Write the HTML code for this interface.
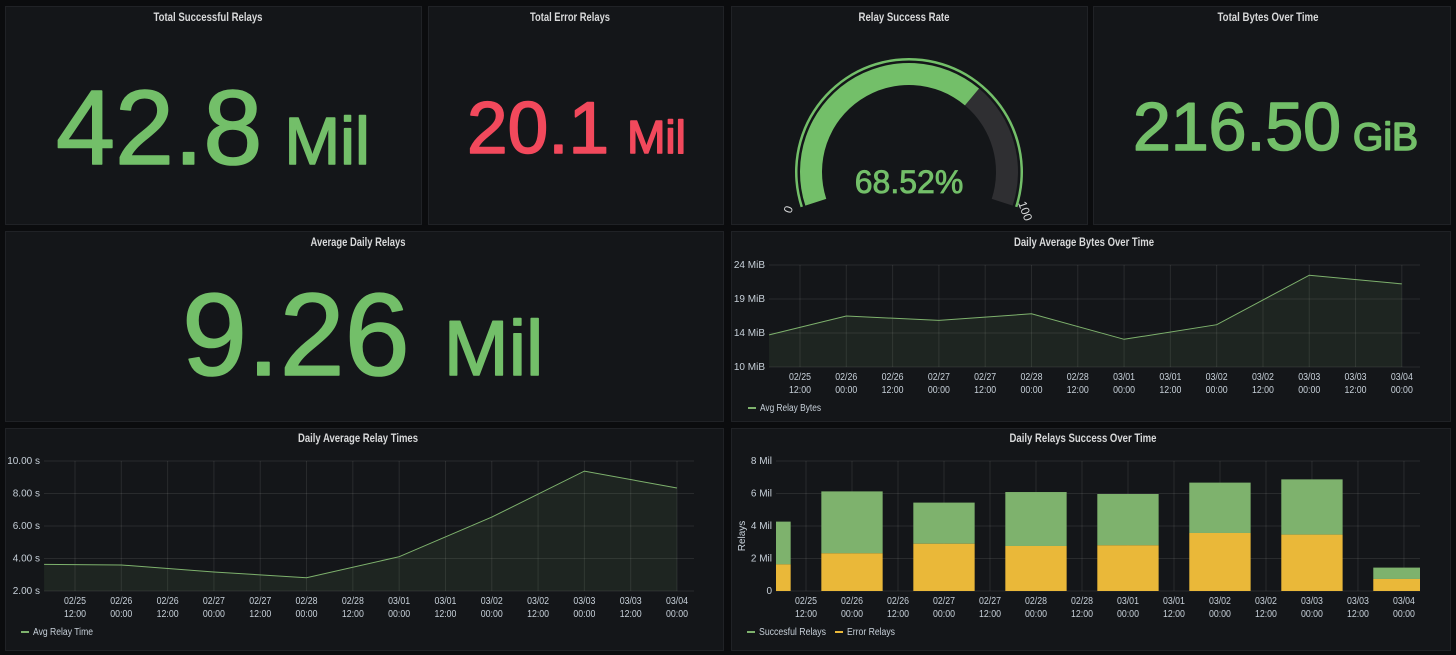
<!DOCTYPE html>
<html><head><meta charset="utf-8"><style>
html,body{margin:0;padding:0;background:#0b0c0e;}
svg{display:block;font-family:"Liberation Sans",sans-serif;}
.t{fill:#d8d9da;font-size:11.5px;font-weight:bold;text-anchor:middle}
.ax{fill:#c7d0d9;font-size:10px}
.g{stroke:rgba(255,255,255,0.09);stroke-width:1}
.st{stroke-width:1.6;stroke-linejoin:round}
</style></head><body>
<svg id="s" width="1456" height="655" viewBox="0 0 1456 655">
<g fill="#141619" stroke="#202226">
<rect x="5.5" y="6.5" width="416" height="218"/>
<rect x="428.5" y="6.5" width="295" height="218"/>
<rect x="731.5" y="6.5" width="356" height="218"/>
<rect x="1093.5" y="6.5" width="357" height="218"/>
<rect x="5.5" y="231.5" width="718" height="190"/>
<rect x="731.5" y="231.5" width="719" height="190"/>
<rect x="5.5" y="428.5" width="718" height="222"/>
<rect x="731.5" y="428.5" width="719" height="222"/>
</g>
<text class="t" x="208" y="21" textLength="109" lengthAdjust="spacingAndGlyphs">Total Successful Relays</text>
<text class="t" x="570" y="21" textLength="80" lengthAdjust="spacingAndGlyphs">Total Error Relays</text>
<text class="t" x="904" y="21" textLength="91" lengthAdjust="spacingAndGlyphs">Relay Success Rate</text>
<text class="t" x="1268" y="21" textLength="101" lengthAdjust="spacingAndGlyphs">Total Bytes Over Time</text>
<text class="t" x="358" y="246" textLength="95" lengthAdjust="spacingAndGlyphs">Average Daily Relays</text>
<text class="t" x="1084" y="246" textLength="140" lengthAdjust="spacingAndGlyphs">Daily Average Bytes Over Time</text>
<text class="t" x="358" y="442" textLength="120" lengthAdjust="spacingAndGlyphs">Daily Average Relay Times</text>
<text class="t" x="1083" y="442" textLength="147" lengthAdjust="spacingAndGlyphs">Daily Relays Success Over Time</text>

<text class="st" x="56" y="164" fill="#73bf69" stroke="#73bf69"><tspan font-size="106">42.8</tspan><tspan font-size="67" dx="22">Mil</tspan></text>
<text class="st" x="467" y="153" fill="#f2495c" stroke="#f2495c"><tspan font-size="73">20.1</tspan><tspan font-size="46" dx="18">Mil</tspan></text>
<text class="st" x="1133" y="150" fill="#73bf69" stroke="#73bf69"><tspan font-size="68">216.50</tspan><tspan font-size="39" dx="12">GiB</tspan></text>
<text class="st" x="182" y="375" fill="#73bf69" stroke="#73bf69"><tspan font-size="117">9.26</tspan><tspan font-size="78" dx="34">Mil</tspan></text>

<g id="gauge"></g>
<text x="909" y="193" fill="#73bf69" stroke="#73bf69" stroke-width="0.8" font-size="32" text-anchor="middle">68.52%</text>
<text x="0" y="0" fill="#d8d9da" font-size="12" transform="translate(791,214) rotate(-70)">0</text>
<text x="0" y="0" fill="#d8d9da" font-size="12" transform="translate(1018,203) rotate(70)">100</text>

<g id="bytes"></g>
<g id="times"></g>
<g id="bars"></g>
<text class="ax" transform="translate(745,536) rotate(-90)" text-anchor="middle">Relays</text>

<g>
<line x1="748" y1="408" x2="756" y2="408" stroke="#7eb26d" stroke-width="2"/>
<text class="ax" x="760" y="411" font-size="9" textLength="61" lengthAdjust="spacingAndGlyphs">Avg Relay Bytes</text>
<line x1="21" y1="632" x2="29" y2="632" stroke="#7eb26d" stroke-width="2"/>
<text class="ax" x="33" y="635" font-size="9" textLength="60" lengthAdjust="spacingAndGlyphs">Avg Relay Time</text>
<line x1="747" y1="632" x2="755" y2="632" stroke="#7eb26d" stroke-width="2"/>
<text class="ax" x="759" y="635" font-size="9" textLength="67" lengthAdjust="spacingAndGlyphs">Succesful Relays</text>
<line x1="835" y1="632" x2="843" y2="632" stroke="#eab839" stroke-width="2"/>
<text class="ax" x="847" y="635" font-size="9" textLength="48" lengthAdjust="spacingAndGlyphs">Error Relays</text>
</g>
</svg>
<script>
// time in hours since 02/25 00:00
const xTickHours=[12,24,36,48,60,72,84,96,108,120,132,144,156,168];
const xTickTop=["02/25","02/26","02/26","02/27","02/27","02/28","02/28","03/01","03/01","03/02","03/02","03/03","03/03","03/04"];
const xTickBottom=["12:00","00:00","12:00","00:00","12:00","00:00","12:00","00:00","12:00","00:00","12:00","00:00","12:00","00:00"];

const bytesHours=[4,24,48,72,96,120,144,168];
const bytesValues=[14.4,17.0,16.4,17.3,13.8,15.8,22.6,21.4];
const bytesTicks=[24,19.33,14.67,10];
const bytesTickLabels=["24 MiB","19 MiB","14 MiB","10 MiB"];

const timeHours=[4,24,48,72,96,120,144,168];
const timeValues=[3.64,3.6,3.17,2.82,4.11,6.55,9.38,8.34];
const timeTicks=[10,8,6,4,2];
const timeTickLabels=["10.00 s","8.00 s","6.00 s","4.00 s","2.00 s"];

const barHours=[0,24,48,72,96,120,144,168];
const barTotal=[4.27,6.13,5.44,6.09,5.97,6.67,6.87,1.44];
const barError=[1.64,2.32,2.91,2.77,2.81,3.57,3.47,0.74];
const barTicks=[8,6,4,2,0];
const barTickLabels=["8 Mil","6 Mil","4 Mil","2 Mil","0"];

const gaugeValue=68.52;

const NS="http://www.w3.org/2000/svg";
function mk(tag,attrs,parent){const e=document.createElementNS(NS,tag);for(const k in attrs)e.setAttribute(k,attrs[k]);parent.appendChild(e);return e;}

function axes(g,cfg){
  cfg.ticks.forEach((v,i)=>{
    const y=cfg.y(v);
    const l=mk('line',{x1:cfg.left,x2:cfg.right,y1:y,y2:y,class:'g'},g);
    
    
    const t=mk('text',{x:cfg.labelX,y:y+3,class:'ax','text-anchor':'end'},g);
    t.textContent=cfg.labels[i];
    
    
  });
  xTickHours.forEach((h,i)=>{
    const x=cfg.x(h);
    const l=mk('line',{x1:x,x2:x,y1:cfg.top,y2:cfg.bottom,class:'g'},g);
    
    
    const t=mk('text',{x:x,y:cfg.bottom+13,class:'ax','text-anchor':'middle',textLength:22,lengthAdjust:'spacingAndGlyphs'},g);
    t.textContent=xTickTop[i];
    
    
    const t2=mk('text',{x:x,y:cfg.bottom+26,class:'ax','text-anchor':'middle',textLength:22,lengthAdjust:'spacingAndGlyphs'},g);
    t2.textContent=xTickBottom[i];
    
    
  });
}

function lineChart(g,cfg,hours,vals,name){
  axes(g,cfg);
  const pts=hours.map((h,i)=>[cfg.x(h),cfg.y(vals[i])]);
  const d='M'+pts.map(p=>p[0].toFixed(1)+','+p[1].toFixed(1)).join(' L');
  const a=mk('path',{d:d+` L${pts[pts.length-1][0]},${cfg.bottom} L${pts[0][0]},${cfg.bottom} Z`,fill:'rgba(126,178,109,0.10)'},g);
  
  
  const p=mk('path',{d:d,fill:'none',stroke:'#7eb26d','stroke-width':1},g);
  
  
}

(function(){
  const g=document.getElementById('bytes');
  const cfg={left:769,right:1420,top:265,bottom:367,labelX:765,
    x:h=>800+(h-12)*3.858, y:v=>367-(v-10)/(24-10)*102, ticks:bytesTicks, labels:bytesTickLabels};
  lineChart(g,cfg,bytesHours,bytesValues,'avg-relay-bytes');
})();
(function(){
  const g=document.getElementById('times');
  const cfg={left:44,right:694,top:461,bottom:591,labelX:40,
    x:h=>75+(h-12)*3.859, y:v=>591-(v-2)/(10-2)*130, ticks:timeTicks, labels:timeTickLabels};
  lineChart(g,cfg,timeHours,timeValues,'avg-relay-time');
})();
(function(){
  const g=document.getElementById('bars');
  const cfg={left:776,right:1420,top:461,bottom:591,labelX:772,
    x:h=>806+(h-12)*3.833, y:v=>591-v/8*130, ticks:barTicks, labels:barTickLabels};
  axes(g,cfg);
  const bw=16*3.833;
  barHours.forEach((h,i)=>{
    const cx=cfg.x(h);
    let x0=Math.max(cx-bw/2,cfg.left), x1=Math.min(cx+bw/2,cfg.right);
    const ye=cfg.y(barError[i]), yt=cfg.y(barTotal[i]);
    const s=mk('rect',{x:x0,y:yt,width:x1-x0,height:ye-yt,fill:'#7eb26d'},g);
    
    
    const e=mk('rect',{x:x0,y:ye,width:x1-x0,height:cfg.bottom-ye,fill:'#eab839'},g);
    
    
  });
})();
(function(){
  const g=document.getElementById('gauge');
  const cx=909,cy=172,a0=198,sweep=216;
  function pt(r,t){const ph=(a0-sweep*t)*Math.PI/180;return [cx+r*Math.cos(ph),cy-r*Math.sin(ph)];}
  function arc(rO,rI,t0,t1){
    const p1=pt(rO,t0),p2=pt(rO,t1),p3=pt(rI,t1),p4=pt(rI,t0);
    const lg=(t1-t0)*sweep>180?1:0;
    return `M${p1} A${rO},${rO} 0 ${lg} 1 ${p2} L${p3} A${rI},${rI} 0 ${lg} 0 ${p4} Z`;
  }
  const t=gaugeValue/100;
  const th=mk('path',{d:arc(114,111.5,0,1),fill:'#73bf69'},g);
  
  
  const bg=mk('path',{d:arc(109,87,t,1),fill:'#2f2f32'},g);
  
  
  const fg=mk('path',{d:arc(109,87,0,t),fill:'#73bf69'},g);
  
  
})();
</script>
</body></html>
